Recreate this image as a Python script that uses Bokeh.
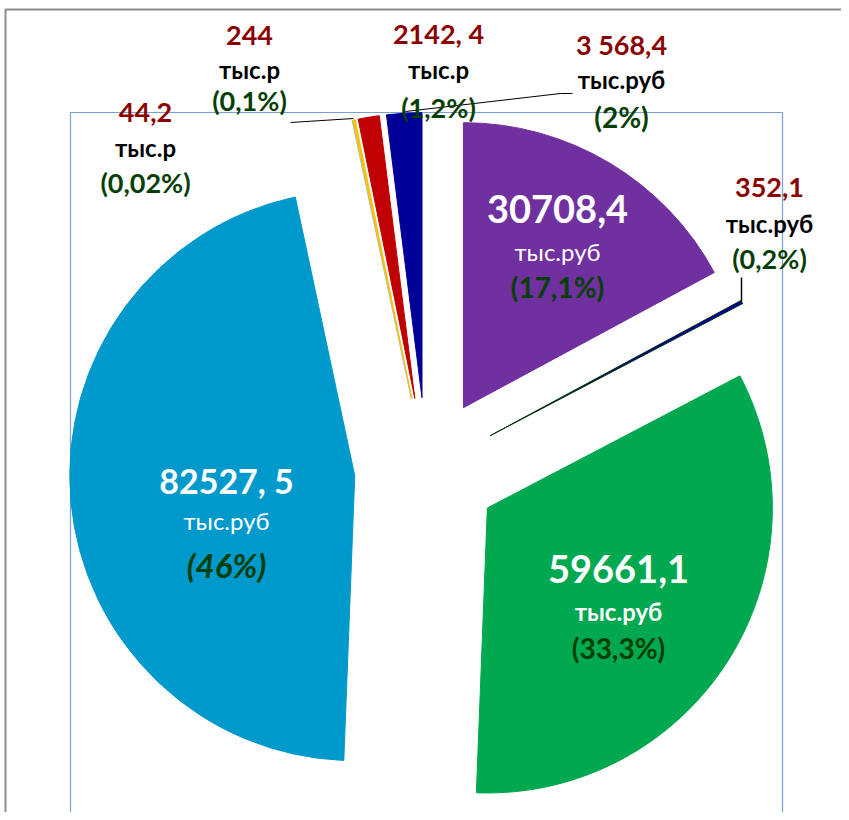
import math
from bokeh.plotting import figure
from bokeh.models import Range1d, ColumnDataSource
from bokeh.core.properties import value
from bokeh.embed import file_html
from bokeh.resources import INLINE

# ---- data (clockwise from 12 o'clock) ----
values = [30708.4, 352.1, 59661.1, 82527.5, 44.2, 244.0, 2142.4, 3568.4]
amount_labels = ["30708,4", "352,1", "59661,1", "82527, 5", "44,2", "244", "2142, 4", "3 568,4"]
unit_labels = ["тыс.руб", "тыс.руб", "тыс.руб", "тыс.руб", "тыс.р", "тыс.р", "тыс.р", "тыс.руб"]
percent_labels = ["(17,1%)", "(0,2%)", "(33,3%)", "(46%)", "(0,02%)", "(0,1%)", "(1,2%)", "(2%)"]

# ---- styles ----
colors = ["#7030A0", "#0000A0", "#00A84F", "#0099CC", "#9DC3E6", "#FFC000", "#C00000", "#000099"]
edge_colors = ["#7030A0", "#003300", "#00A84F", "#0099CC", "#9DC3E6", "#FFC000", "#C00000", "#000099"]

W, H = 841, 812
OX, OY = 0, 0          # screen coords of canvas origin
CX, CY = 426, 469      # pie centre (screen px)
R = 285                # radius
D = 72                 # explosion distance

def sy(y):             # screen y -> data y
    return -y

p = figure(width=W, height=H, output_backend="svg", toolbar_location=None,
           x_range=Range1d(OX, OX + W), y_range=Range1d(-(OY + H), -OY),
           min_border=0, x_axis_type=None, y_axis_type=None)
p.outline_line_color = None
p.grid.visible = False
p.background_fill_color = "white"

# frames
p.line([5, 5, 860], [sy(830), sy(9), sy(9)], line_color="#8C8C8C", line_width=2)
p.line([70, 70, 782, 782], [sy(830), sy(112), sy(112), sy(830)], line_color="#7A9FD4", line_width=1.2)

# wedges
total = sum(values)
xs, ys, starts, ends = [], [], [], []
cum = 0.0
for v in values:
    a0 = cum / total * 2 * math.pi
    a1 = (cum + v) / total * 2 * math.pi
    b = (a0 + a1) / 2
    xs.append(CX + D * math.sin(b))
    ys.append(sy(CY) + D * math.cos(b))
    starts.append(math.pi / 2 - a1)
    ends.append(math.pi / 2 - a0)
    cum += v

src = ColumnDataSource(dict(x=xs, y=ys, s=starts, e=ends, fill=colors, edge=edge_colors))
p.wedge(x="x", y="y", radius=R, start_angle="s", end_angle="e", source=src,
        fill_color="fill", line_color="edge", line_width=1)

# leader lines
p.line([290, 353], [sy(122), sy(118)], line_color="black", line_width=1)
p.line([405, 560, 572], [sy(111), sy(93), sy(93)], line_color="black", line_width=1)
p.line([741, 741], [sy(277), sy(301)], line_color="black", line_width=1.5)

# label layout: (x centre, baseline of amount, unit, percent) per slice
DR = "#8B0000"
GR = "#063F06"
label_pos = [
    (557, 223, 260, 297),
    (769, 197, 232, 268),
    (618, 583, 620, 658),
    (226, 493, 529, 577),
    (145, 122, 156, 192),
    (249, 45, 78, 110),
    (438, 43, 78, 117),
    (621, 54, 88, 127),
]
amount_style = [(38, "white", "bold"), (27, DR, "bold"), (38, "white", "bold"),
                (34, "white", "bold"), (27, DR, "bold"), (27, DR, "bold"),
                (27, DR, "bold"), (27, DR, "bold")]
unit_style = [(24, "white", "normal"), (24, "black", "bold"), (24, "white", "bold"),
              (24, "white", "normal"), (24, "black", "bold"), (24, "black", "bold"),
              (24, "black", "bold"), (24, "black", "bold")]
pct_style = [(28, GR, "bold"), (27, GR, "bold"), (28, GR, "bold"),
             (33, GR, "bold italic"), (27, GR, "bold"), (27, GR, "bold"),
             (27, GR, "bold"), (28, GR, "bold")]

tx, ty, tt, tsize, tcol, tstyle = [], [], [], [], [], []
for i in range(len(values)):
    x, b1, b2, b3 = label_pos[i]
    for txt, b, st in ((amount_labels[i], b1, amount_style[i]),
                       (unit_labels[i], b2, unit_style[i]),
                       (percent_labels[i], b3, pct_style[i])):
        tx.append(x); ty.append(sy(b - 0.37 * st[0])); tt.append(txt)
        tsize.append(f"{st[0]}px"); tcol.append(st[1]); tstyle.append(st[2])

tsrc = ColumnDataSource(dict(x=tx, y=ty, text=tt, size=tsize, color=tcol, style=tstyle))
p.text(x="x", y="y", text="text", source=tsrc, text_font=value("Lato"),
       text_font_size="size", text_color="color", text_font_style="style",
       text_align="center", text_baseline="alphabetic")

open("out.html", "w").write(file_html(p, INLINE))
